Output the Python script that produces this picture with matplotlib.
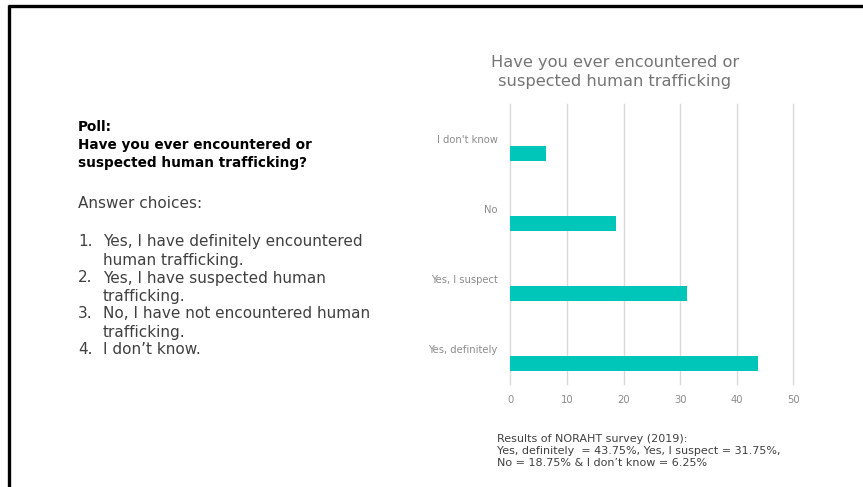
import matplotlib.pyplot as plt
import numpy as np

plt.rcParams['font.family'] = ['DejaVu Sans']

# данные опроса
categories = ['Yes, definitely', 'Yes, I suspect', 'No', "I don't know"]
values = [43.75, 31.25, 18.75, 6.25]
x_ticks = [0, 10, 20, 30, 40, 50]

answers = [
    ('1.', 'Yes, I have definitely encountered\nhuman trafficking.'),
    ('2.', 'Yes, I have suspected human\ntrafficking.'),
    ('3.', 'No, I have not encountered human\ntrafficking.'),
    ('4.', 'I don\u2019t know.'),
]

COLORS = {
    'bar': '#00C5B9',
    'grid': '#D9D9D9',
    'tick': '#8C8C8C',
    'title': '#757575',
    'text': '#404040',
}

W, H = 863, 487
fig = plt.figure(figsize=(W / 100, H / 100), dpi=100)
fig.patch.set_facecolor('white')

# рамка слайда (верх и лево)
fig.add_artist(plt.Line2D([7.5 / W, 1], [1 - 5.5 / H, 1 - 5.5 / H], color='black', lw=2.4,
                          solid_capstyle='butt'))
fig.add_artist(plt.Line2D([9 / W, 9 / W], [0, 1 - 4.5 / H], color='black', lw=2.4,
                          solid_capstyle='butt'))

# левый блок текста
fig.text(78 / W, 1 - 127 / H, 'Poll:', fontsize=9.8, fontweight='bold', color='black', va='center')
fig.text(78 / W, 1 - 145 / H, 'Have you ever encountered or', fontsize=9.8, fontweight='bold',
         color='black', va='center')
fig.text(78 / W, 1 - 163 / H, 'suspected human trafficking?', fontsize=9.8, fontweight='bold',
         color='black', va='center')
fig.text(78 / W, 1 - 204 / H, 'Answer choices:', fontsize=11, color=COLORS['text'], va='center')

y = 242
for num, txt in answers:
    fig.text(78 / W, 1 - y / H, num, fontsize=11, color=COLORS['text'], va='center')
    for line in txt.split('\n'):
        fig.text(103 / W, 1 - y / H, line, fontsize=11, color=COLORS['text'], va='center')
        y += 18

# график
ax = fig.add_axes([510.3 / W, 1 - 383.5 / H, 283 / W, 279.5 / H])
pos = np.arange(len(categories))
ax.barh(pos - 0.215, values, height=0.215, color=COLORS['bar'], zorder=3)
ax.set_xlim(0, 50)
ax.set_ylim(-0.5, len(categories) - 0.5)
ax.set_xticks(x_ticks)
ax.set_yticks(pos)
ax.set_yticklabels(categories)
ax.grid(axis='x', color=COLORS['grid'], lw=1, zorder=0)
for gl in ax.get_xgridlines():
    gl.set_clip_on(False)
for s in ax.spines.values():
    s.set_visible(False)
ax.tick_params(axis='both', length=0, labelsize=7.2, colors=COLORS['tick'])
ax.tick_params(axis='y', pad=9)
ax.tick_params(axis='x', pad=8)

fig.text(615 / W, 1 - 72 / H, 'Have you ever encountered or\nsuspected human trafficking',
         fontsize=11.7, color=COLORS['title'], ha='center', va='center', linespacing=1.35)

fig.text(497 / W, 1 - 451 / H,
         'Results of NORAHT survey (2019):\n'
         'Yes, definitely  = 43.75%, Yes, I suspect = 31.75%,\n'
         'No = 18.75% & I don\u2019t know = 6.25%',
         fontsize=8, color=COLORS['text'], va='center', linespacing=1.2)

plt.savefig('out.png', dpi=100, facecolor='white')
plt.close()
